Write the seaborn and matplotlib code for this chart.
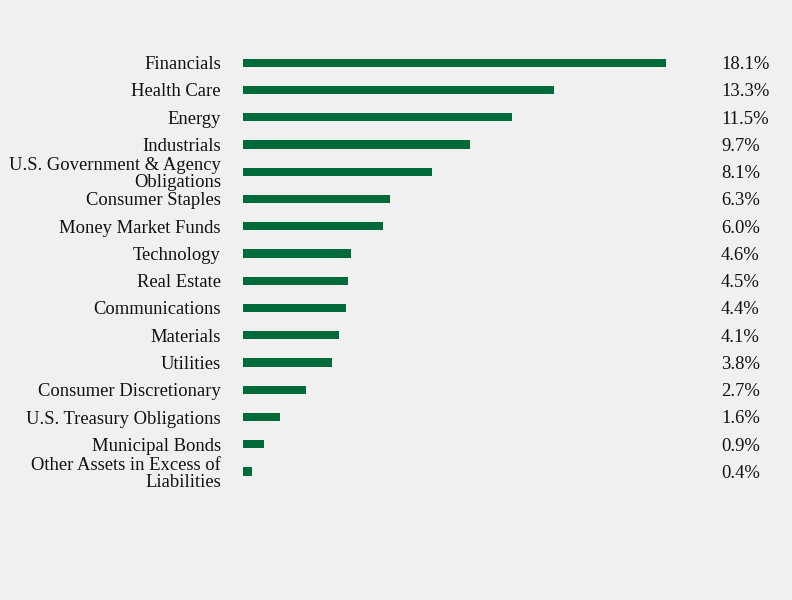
import matplotlib
matplotlib.use("Agg")
import matplotlib.pyplot as plt
import matplotlib.transforms as mtransforms
import seaborn as sns
import pandas as pd

categories = ["Financials", "Health Care", "Energy", "Industrials",
              "U.S. Government & Agency\nObligations", "Consumer Staples",
              "Money Market Funds", "Technology", "Real Estate", "Communications",
              "Materials", "Utilities", "Consumer Discretionary",
              "U.S. Treasury Obligations", "Municipal Bonds",
              "Other Assets in Excess of\nLiabilities"]
values = [18.1, 13.3, 11.5, 9.7, 8.1, 6.3, 6.0, 4.6, 4.5, 4.4, 4.1, 3.8, 2.7, 1.6, 0.9, 0.4]
labels = ["18.1%", "13.3%", "11.5%", "9.7%", "8.1%", "6.3%", "6.0%", "4.6%", "4.5%",
          "4.4%", "4.1%", "3.8%", "2.7%", "1.6%", "0.9%", "0.4%"]

df = pd.DataFrame({"category": categories, "value": values})

bg = "#f0f0f0"
green = "#006a3a"
plt.rcParams["font.family"] = ["Liberation Serif", "DejaVu Serif"]

fig = plt.figure(figsize=(7.92, 6.0), dpi=100, facecolor=bg)
left = 243 / 792
right = 700 / 792
top = 1 - 49 / 600
bottom = 1 - 485.2 / 600
ax = fig.add_axes([left, bottom, right - left, top - bottom])
ax.set_facecolor(bg)

sns.barplot(data=df, x="value", y="category", orient="h", color=green,
            width=0.3, saturation=1, ax=ax)

ax.set_xlim(0, (700 - 243) / (423 / 18.1))
ax.set_ylim(len(categories) - 0.5, -0.5)
for s in ax.spines.values():
    s.set_visible(False)
ax.set_xticks([])
ax.set_xlabel("")
ax.set_ylabel("")
ax.tick_params(axis="y", length=0, pad=16, labelsize=13.4, colors="#111111")
for t in ax.get_yticklabels():
    t.set_linespacing(1.0)

trans = mtransforms.blended_transform_factory(fig.transFigure, ax.transData)
for i, lab in enumerate(labels):
    ax.text(721 / 792, i + 0.07, lab, transform=trans, ha="left", va="center",
            fontsize=13.4, color="#111111")

fig.savefig("out.png", dpi=100, facecolor=bg)
